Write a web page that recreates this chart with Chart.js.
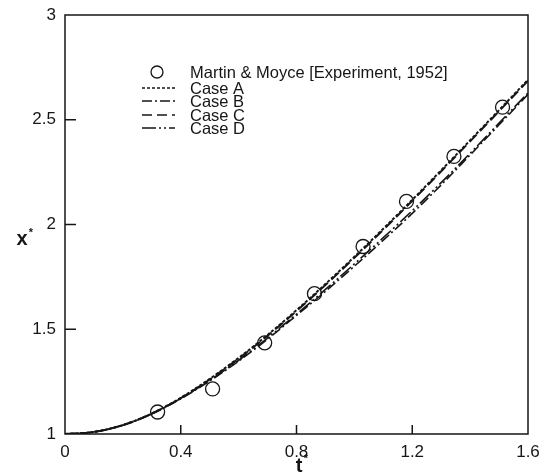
<!DOCTYPE html>
<html>
<head>
<meta charset="utf-8">
<script src="https://cdn.jsdelivr.net/npm/chart.js@4.4.1/dist/chart.umd.min.js"></script>
<style>
  html, body { margin: 0; padding: 0; background: #fff; }
</style>
</head>
<body>
<canvas id="chart" width="540" height="472"></canvas>
<script>
// t* sample points used for the computed front positions
const tValues = [0, 0.1, 0.2, 0.3, 0.4, 0.5, 0.6, 0.7, 0.8, 0.9, 1.0, 1.1, 1.2, 1.3, 1.4, 1.5, 1.6];
const caseA = [1.000, 1.010, 1.043, 1.098, 1.173, 1.263, 1.363, 1.473, 1.591, 1.716, 1.846, 1.980, 2.118, 2.259, 2.402, 2.546, 2.691];
const caseB = [1.000, 1.010, 1.042, 1.096, 1.168, 1.253, 1.348, 1.453, 1.566, 1.681, 1.801, 1.925, 2.053, 2.189, 2.332, 2.476, 2.621];
const caseC = [1.000, 1.010, 1.042, 1.097, 1.171, 1.260, 1.360, 1.469, 1.587, 1.711, 1.841, 1.975, 2.113, 2.254, 2.397, 2.541, 2.686];
const caseD = [1.000, 1.010, 1.042, 1.097, 1.170, 1.256, 1.352, 1.458, 1.572, 1.690, 1.812, 1.937, 2.066, 2.200, 2.340, 2.484, 2.628];

// Martin & Moyce experiment
const expT = [0.32, 0.51, 0.69, 0.862, 1.03, 1.18, 1.344, 1.512];
const expX = [1.105, 1.215, 1.435, 1.67, 1.895, 2.11, 2.325, 2.56];

const xTicks = [0, 0.4, 0.8, 1.2, 1.6];
const yTicks = [1, 1.5, 2, 2.5, 3];

const ink = "#161616";
const fontFamily = "'Liberation Sans', Arial, Helvetica, sans-serif";
Chart.defaults.font.family = fontFamily;
Chart.defaults.color = ink;

const toPoints = (xs, ys) => xs.map((x, i) => ({ x: x, y: ys[i] }));

function curve(label, values, dash, width) {
  return {
    type: "line",
    label: label,
    data: toPoints(tValues, values),
    borderColor: ink,
    borderWidth: width,
    borderDash: dash,
    pointRadius: 0,
    fill: false,
    cubicInterpolationMode: "monotone",
  };
}

// frame, inner ticks, legend and axis titles
const decor = {
  id: "decor",
  afterDraw(chart) {
    const ctx = chart.ctx;
    const a = chart.chartArea;
    const xs = chart.scales.x;
    const ys = chart.scales.y;
    ctx.save();
    ctx.strokeStyle = ink;
    ctx.lineWidth = 1.5;
    ctx.setLineDash([]);
    ctx.strokeRect(a.left, a.top, a.right - a.left, a.bottom - a.top);

    ctx.beginPath();
    for (const v of xTicks.slice(1, -1)) {
      const px = xs.getPixelForValue(v);
      ctx.moveTo(px, a.bottom);
      ctx.lineTo(px, a.bottom - 9);
    }
    for (const v of yTicks.slice(1, -1)) {
      const py = ys.getPixelForValue(v);
      ctx.moveTo(a.left, py);
      ctx.lineTo(a.left + 11, py);
    }
    ctx.stroke();

    // legend
    ctx.font = "16.5px " + fontFamily;
    ctx.fillStyle = ink;
    ctx.textBaseline = "middle";
    ctx.textAlign = "left";
    const rows = [72, 88, 101, 115, 128];
    chart.data.datasets.forEach((ds, i) => {
      const y = rows[i];
      ctx.lineWidth = 1.3;
      if (ds.showLine === false) {
        ctx.setLineDash([]);
        ctx.beginPath();
        ctx.arc(157, y, 6, 0, Math.PI * 2);
        ctx.stroke();
      } else {
        ctx.setLineDash(ds.borderDash);
        ctx.beginPath();
        ctx.moveTo(142, y);
        ctx.lineTo(175, y);
        ctx.stroke();
      }
      ctx.fillText(ds.label, 190, y + 1);
    });

    // axis titles with superscript star
    ctx.setLineDash([]);
    ctx.font = "bold 20px " + fontFamily;
    ctx.textAlign = "center";
    ctx.fillText("x", 22, 239);
    ctx.fillText("t", 299, 466);
    ctx.font = "bold 11px " + fontFamily;
    ctx.fillText("*", 31, 233);
    ctx.fillText("*", 306, 459);
    ctx.restore();
  },
};

new Chart(document.getElementById("chart"), {
  data: {
    datasets: [
      {
        type: "scatter",
        label: "Martin & Moyce [Experiment, 1952]",
        data: toPoints(expT, expX),
        showLine: false,
        pointStyle: "circle",
        pointRadius: 7,
        pointBorderWidth: 1.3,
        pointBorderColor: ink,
        pointBackgroundColor: "rgba(0,0,0,0)",
      },
      curve("Case A", caseA, [3, 2], 2),
      curve("Case B", caseB, [10, 3, 2, 3], 1.6),
      curve("Case C", caseC, [10, 5], 2),
      curve("Case D", caseD, [14, 3, 2, 3, 2, 3], 1.6),
    ],
  },
  options: {
    responsive: false,
    devicePixelRatio: 1,
    animation: false,
    layout: { autoPadding: false, padding: { left: 0, top: 15, right: 12, bottom: 0 } },
    plugins: { legend: { display: false }, tooltip: { enabled: false } },
    scales: {
      x: {
        type: "linear",
        min: 0,
        max: 1.6,
        grid: { display: false, drawTicks: false },
        border: { display: false },
        afterBuildTicks: (s) => { s.ticks = xTicks.map((v) => ({ value: v })); },
        afterFit: (s) => {
          s.height = 38;
          s.paddingLeft = 0;
          s.paddingRight = 0;
        },
        ticks: { font: { size: 17 }, padding: 8, maxRotation: 0, callback: (v) => String(v) },
      },
      y: {
        type: "linear",
        min: 1,
        max: 3,
        grid: { display: false, drawTicks: false },
        border: { display: false },
        afterBuildTicks: (s) => { s.ticks = yTicks.map((v) => ({ value: v })); },
        afterFit: (s) => {
          s.width = 65;
          s.paddingTop = 0;
          s.paddingBottom = 0;
        },
        ticks: { font: { size: 17 }, padding: 9, callback: (v) => String(v) },
      },
    },
  },
  plugins: [decor],
});
</script>
</body>
</html>
